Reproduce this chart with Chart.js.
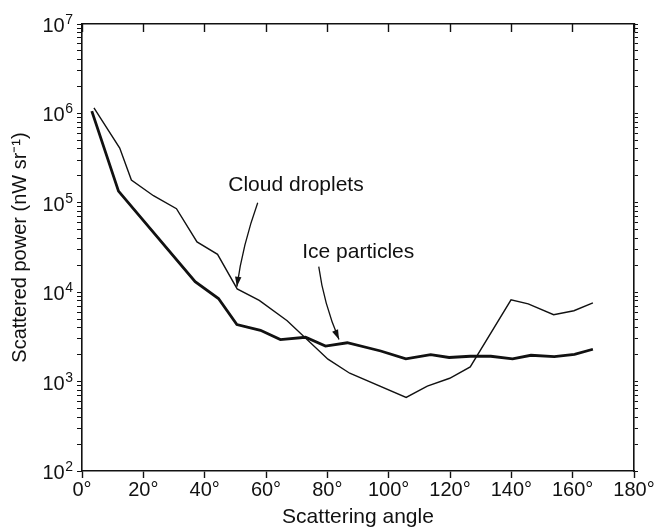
<!DOCTYPE html>
<html>
<head>
<meta charset="utf-8">
<script src="https://cdn.jsdelivr.net/npm/chart.js@4/dist/chart.umd.min.js"></script>
<style>
  html, body { margin: 0; padding: 0; background: #fff; }
  #wrap { width: 660px; height: 530px; }
</style>
</head>
<body>
<div id="wrap"><canvas id="chart" width="660" height="530"></canvas></div>
<script>
// scattering angle (deg) and scattered power (nW/sr)
const iceAngles = [3.2, 11.9, 36.9, 44.5, 50.5, 58.2, 64.7, 72.9, 79.4, 86.5, 97.4, 105.6, 113.7, 119.7, 126.6, 133.3, 140.4, 146.4, 154, 160.6, 166.6]
const icePower = [1.06e6, 1.35e5, 1.31e4, 8.5e3, 4.35e3, 3.75e3, 2.95e3, 3.13e3, 2.5e3, 2.72e3, 2.2e3, 1.8e3, 2.0e3, 1.86e3, 1.92e3, 1.92e3, 1.8e3, 1.97e3, 1.9e3, 2.02e3, 2.3e3]

const cloudAngles = [3.9, 12.3, 16.1, 23.3, 30.8, 37.5, 44.2, 50.6, 57.8, 66.9, 80.2, 87.3, 105.7, 112.6, 119.9, 126.6, 139.9, 145.5, 153.8, 160.4, 166.6]
const cloudPower = [1.15e6, 4.1e5, 1.8e5, 1.2e5, 8.6e4, 3.65e4, 2.65e4, 1.09e4, 8.1e3, 4.8e3, 1.78e3, 1.24e3, 665, 890, 1.09e3, 1.46e3, 8.2e3, 7.4e3, 5.6e3, 6.2e3, 7.6e3]

const xTicks = [0, 20, 40, 60, 80, 100, 120, 140, 160, 180]
const yDecades = [2, 3, 4, 5, 6, 7]

// labels with arrows, in data units
const notes = [
  {text: 'Cloud droplets', at: [47.7, 1.36e5], from: [57.3, 1.0e5], bend: [52.4, 3.4e4], to: [50.5, 1.15e4]},
  {text: 'Ice particles', at: [71.8, 2.39e4], from: [77.2, 1.93e4], bend: [78.8, 7.5e3], to: [83.8, 2.95e3]}
]

const FONT = 'Liberation Sans, Arial, Helvetica, sans-serif'
const INK = '#111'

function toPoints(xs, ys) {
  return xs.map((x, i) => ({x: x, y: ys[i]}))
}

// minor log ticks 1..9 per decade
const yTickValues = []
for (let i = 0; i < yDecades.length - 1; i++) {
  for (let m = 1; m <= 9; m++) yTickValues.push(m * Math.pow(10, yDecades[i]))
}
yTickValues.push(Math.pow(10, yDecades[yDecades.length - 1]))

const border = {display: true, color: INK, width: 1.6}

// "10" with a raised exponent next to each decade tick
const decadeLabels = {
  id: 'decadeLabels',
  afterDraw(chart) {
    const {ctx, scales: {y}} = chart
    const right = y.right - 9
    ctx.save()
    ctx.fillStyle = INK
    ctx.textBaseline = 'alphabetic'
    yDecades.forEach(e => {
      const py = y.getPixelForValue(Math.pow(10, e))
      ctx.font = '14px ' + FONT
      ctx.textAlign = 'right'
      const w = ctx.measureText(String(e)).width
      ctx.fillText(String(e), right, py)
      ctx.font = '20px ' + FONT
      ctx.fillText('10', right - w - 0.5, py + 8)
    })
    ctx.restore()
  }
}

const notesPlugin = {
  id: 'notes',
  afterDatasetsDraw(chart) {
    const {ctx, scales: {x, y}} = chart
    const px = p => [x.getPixelForValue(p[0]), y.getPixelForValue(p[1])]
    ctx.save()
    ctx.fillStyle = INK
    ctx.strokeStyle = INK
    ctx.font = '21px ' + FONT
    ctx.textAlign = 'left'
    ctx.textBaseline = 'alphabetic'
    notes.forEach(n => {
      const t = px(n.at)
      ctx.fillText(n.text, t[0], t[1])
      const a = px(n.from), c = px(n.bend), b = px(n.to)
      ctx.lineWidth = 1.3
      ctx.beginPath()
      ctx.moveTo(a[0], a[1])
      ctx.quadraticCurveTo(c[0], c[1], b[0], b[1])
      ctx.stroke()
      const ang = Math.atan2(b[1] - c[1], b[0] - c[0])
      const len = 10, half = 3.2
      ctx.beginPath()
      ctx.moveTo(b[0], b[1])
      ctx.lineTo(b[0] - len * Math.cos(ang) + half * Math.sin(ang), b[1] - len * Math.sin(ang) - half * Math.cos(ang))
      ctx.lineTo(b[0] - len * Math.cos(ang) - half * Math.sin(ang), b[1] - len * Math.sin(ang) + half * Math.cos(ang))
      ctx.closePath()
      ctx.fill()
    })
    ctx.restore()
  }
}

const data = {
  datasets: [
    {
      label: 'Cloud droplets',
      data: toPoints(cloudAngles, cloudPower),
      borderColor: INK,
      borderWidth: 1.4,
      pointRadius: 0,
      tension: 0
    },
    {
      label: 'Ice particles',
      data: toPoints(iceAngles, icePower),
      borderColor: INK,
      borderWidth: 2.8,
      pointRadius: 0,
      tension: 0
    }
  ]
}

const options = {
  responsive: false,
  animation: false,
  layout: {padding: 0},
  plugins: {
    legend: {display: false},
    tooltip: {enabled: false}
  },
  scales: {
    x: {
      type: 'linear',
      position: 'bottom',
      min: 0,
      max: 180,
      border: border,
      afterBuildTicks: s => { s.ticks = xTicks.map(v => ({value: v})) },
      afterFit: s => { s.height = 59 },
      grid: {drawOnChartArea: false, tickLength: 7, tickColor: INK, tickWidth: 1.4},
      ticks: {
        color: INK,
        padding: 0,
        maxRotation: 0,
        autoSkip: false,
        font: {family: FONT, size: 20},
        callback: v => v + '°'
      },
      title: {
        display: true,
        text: 'Scattering angle',
        color: INK,
        padding: {top: 0, bottom: 0},
        font: {family: FONT, size: 21}
      }
    },
    x2: {
      type: 'linear',
      position: 'top',
      min: 0,
      max: 180,
      border: border,
      afterBuildTicks: s => { s.ticks = xTicks.map(v => ({value: v})) },
      afterFit: s => { s.height = 24 },
      grid: {drawOnChartArea: false, tickLength: -8, tickColor: INK, tickWidth: 1.4},
      ticks: {display: false}
    },
    y: {
      type: 'logarithmic',
      position: 'left',
      min: 100,
      max: 1e7,
      border: border,
      afterBuildTicks: s => { s.ticks = yTickValues.map(v => ({value: v})) },
      afterFit: s => { s.width = 82 },
      grid: {drawOnChartArea: false, tickLength: 5, tickColor: INK, tickWidth: 1},
      ticks: {
        color: INK,
        padding: 1,
        autoSkip: false,
        font: {family: FONT, size: 20},
        callback: () => ''
      },
      title: {
        display: true,
        text: 'Scattered power (nW sr⁻¹)',
        color: INK,
        padding: {top: 8, bottom: 0},
        font: {family: FONT, size: 20}
      }
    },
    y2: {
      type: 'logarithmic',
      position: 'right',
      min: 100,
      max: 1e7,
      border: border,
      afterBuildTicks: s => { s.ticks = yTickValues.map(v => ({value: v})) },
      afterFit: s => { s.width = 26 },
      grid: {drawOnChartArea: false, tickLength: 4, tickColor: INK, tickWidth: 1},
      ticks: {display: false}
    }
  }
}

new Chart(document.getElementById('chart'), {
  type: 'line',
  data: data,
  options: options,
  plugins: [notesPlugin, decadeLabels]
})
</script>
</body>
</html>
